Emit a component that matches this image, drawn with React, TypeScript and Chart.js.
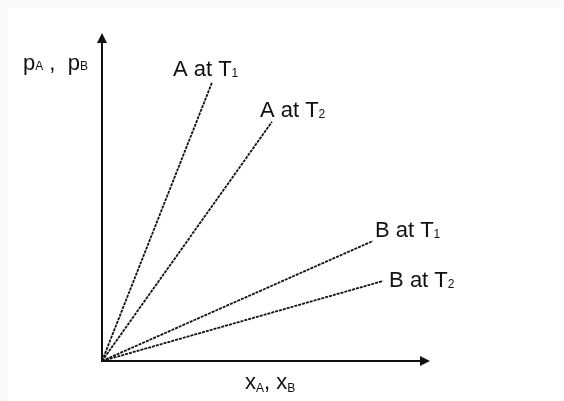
import React, { useEffect, useRef } from "react";
import { Chart, registerables } from "chart.js";

Chart.register(...registerables);

// ---- data ----
const seriesNames = ["A at T_1", "A at T_2", "B at T_1", "B at T_2"];
const endX = [3.35, 5.18, 8.26, 8.57];
const endY = [8.48, 7.29, 3.66, 2.44];
const xAxisTitle = "x_A, x_B";
const yAxisTitle = "p_A ,  p_B";

const FONT = "'Liberation Sans', Arial, sans-serif";
const MAIN_FONT = `22px ${FONT}`;
const SUB_FONT = `12px ${FONT}`;
const INK = "#111111";

function parseRich(text: string) {
  const segs: { t: string; sub: boolean }[] = [];
  let buf = "";
  for (let i = 0; i < text.length; i++) {
    const c = text[i];
    if (c === "_" && i + 1 < text.length) {
      if (buf) segs.push({ t: buf, sub: false });
      buf = "";
      segs.push({ t: text[i + 1], sub: true });
      i++;
    } else buf += c;
  }
  if (buf) segs.push({ t: buf, sub: false });
  return segs;
}

function drawRich(ctx: CanvasRenderingContext2D, text: string, x: number, y: number, subDy: number) {
  ctx.textAlign = "left";
  ctx.textBaseline = "alphabetic";
  ctx.fillStyle = INK;
  let cx = x;
  for (const s of parseRich(text)) {
    ctx.font = s.sub ? SUB_FONT : MAIN_FONT;
    ctx.fillText(s.t, cx, s.sub ? y + subDy : y);
    cx += ctx.measureText(s.t).width;
  }
}

const labelOffsets = [
  [-39, -7],
  [-12, -5],
  [2, -4],
  [6, 6],
];

const decorPlugin = {
  id: "decor",
  afterDatasetsDraw(chart: any) {
    const ctx: CanvasRenderingContext2D = chart.ctx;
    const xs = chart.scales.x;
    const ys = chart.scales.y;
    const ox = xs.getPixelForValue(0);
    const oy = ys.getPixelForValue(0);
    const tx = xs.getPixelForValue(xs.max);
    const ty = ys.getPixelForValue(ys.max);
    ctx.save();
    ctx.strokeStyle = INK;
    ctx.fillStyle = INK;
    ctx.lineWidth = 2;
    ctx.beginPath();
    ctx.moveTo(ox, oy + 1);
    ctx.lineTo(ox, ty + 8);
    ctx.moveTo(ox - 1, oy);
    ctx.lineTo(tx - 8, oy);
    ctx.stroke();
    // arrow heads
    ctx.beginPath();
    ctx.moveTo(ox, ty);
    ctx.lineTo(ox - 5, ty + 10);
    ctx.lineTo(ox + 5, ty + 10);
    ctx.closePath();
    ctx.fill();
    ctx.beginPath();
    ctx.moveTo(tx, oy);
    ctx.lineTo(tx - 10, oy - 5);
    ctx.lineTo(tx - 10, oy + 5);
    ctx.closePath();
    ctx.fill();

    // series labels
    seriesNames.forEach((name, i) => {
      const px = xs.getPixelForValue(endX[i]);
      const py = ys.getPixelForValue(endY[i]);
      drawRich(ctx, name, px + labelOffsets[i][0], py + labelOffsets[i][1], 1);
    });
    // axis titles
    drawRich(ctx, yAxisTitle, ox - 79, ty + 37, 0);
    drawRich(ctx, xAxisTitle, ox + 143, oy + 28, 3);
    ctx.restore();
  },
};

export default function App() {
  const ref = useRef<HTMLCanvasElement>(null);
  useEffect(() => {
    if (!ref.current) return;
    const chart = new Chart(ref.current, {
      type: "scatter",
      data: {
        datasets: seriesNames.map((n, i) => ({
          label: n.replace("_", ""),
          data: [
            { x: 0, y: 0 },
            { x: endX[i], y: endY[i] },
          ],
          showLine: true,
          borderColor: INK,
          borderWidth: 1.8,
          borderDash: [3, 1],
          pointRadius: 0,
          fill: false,
        })),
      },
      options: {
        animation: false,
        responsive: false,
        layout: { padding: { left: 94, right: 134, top: 25, bottom: 40 } },
        plugins: { legend: { display: false }, tooltip: { enabled: false } },
        scales: {
          x: { type: "linear", min: 0, max: 10, display: false },
          y: { type: "linear", min: 0, max: 10, display: false },
        },
      },
      plugins: [decorPlugin],
    });
    return () => chart.destroy();
  }, []);
  return (
    <div style={{ position: "fixed", left: 0, top: 0, right: 0, bottom: 0, background: "#fafafa" }}>
      <canvas
        ref={ref}
        width={556}
        height={393}
        style={{ position: "absolute", left: 8, top: 8, width: 556, height: 393, background: "#ffffff" }}
      />
    </div>
  );
}
